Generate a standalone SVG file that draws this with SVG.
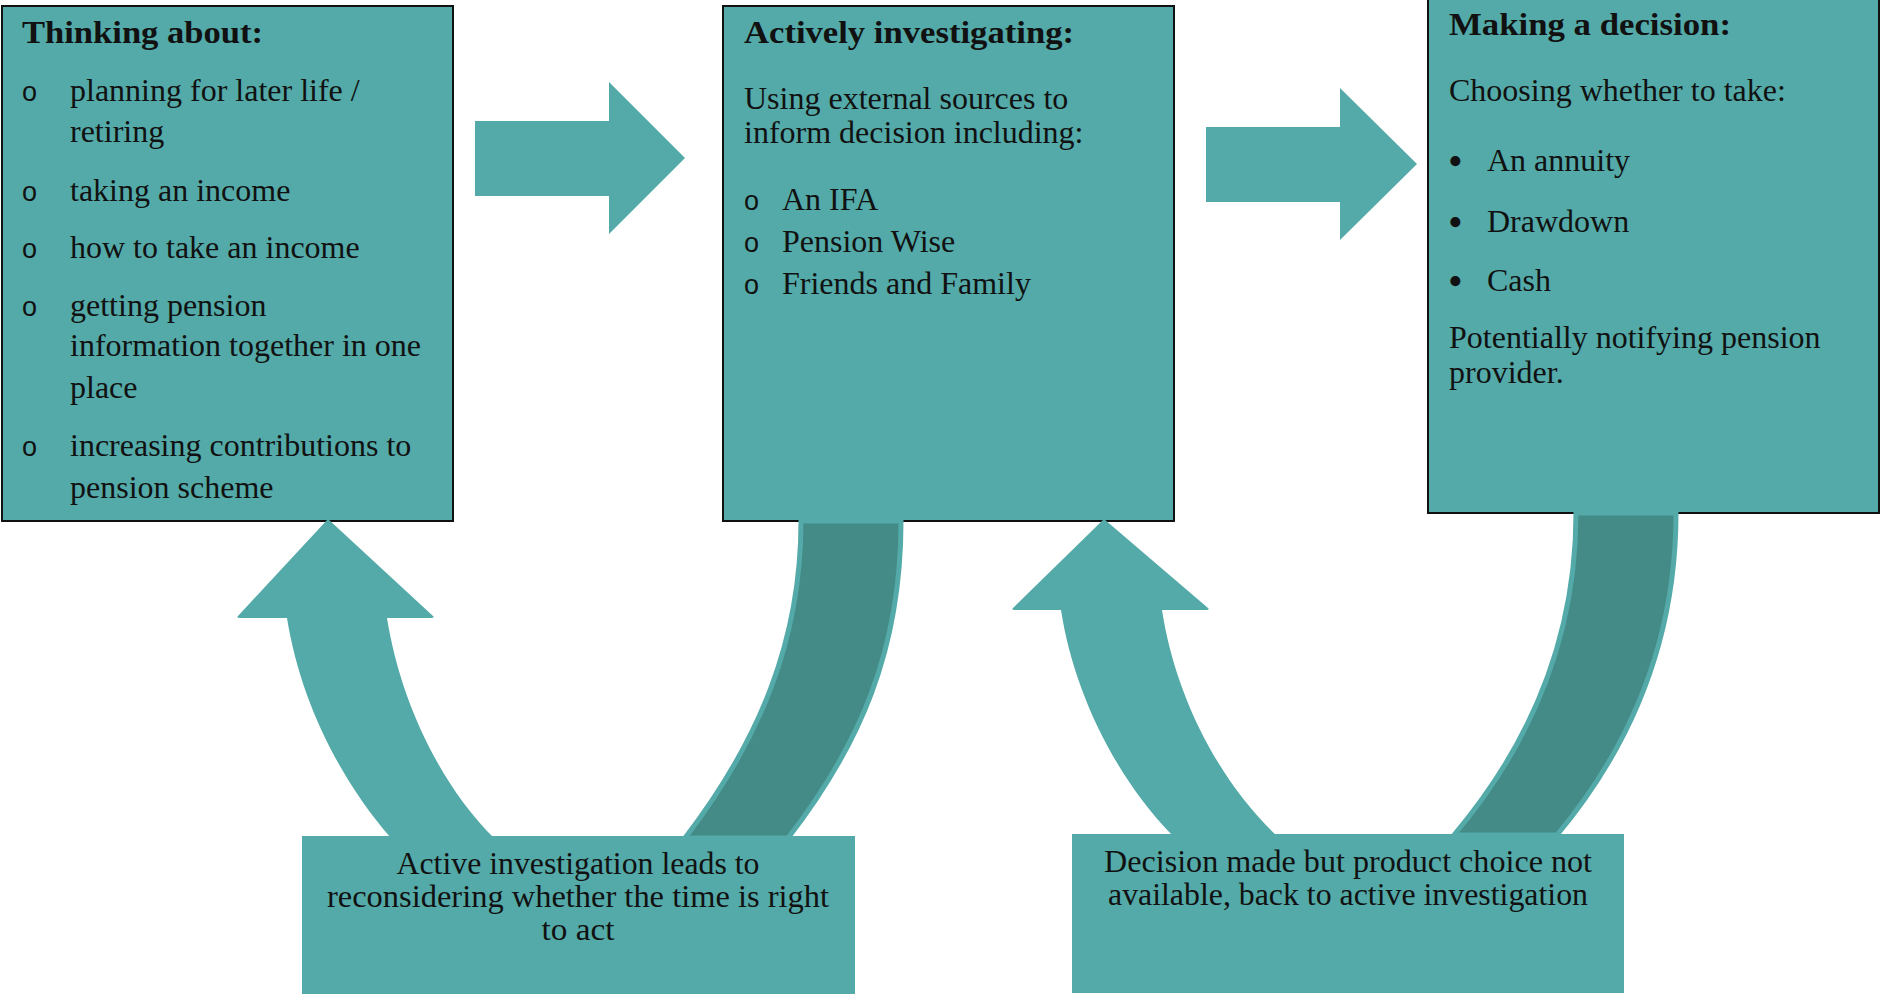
<svg xmlns="http://www.w3.org/2000/svg" width="1881" height="997" viewBox="0 0 1881 997">
<style>
.box{fill:#53aaa8;stroke:#111;stroke-width:2}
.lbl{fill:#53aaa8}
.arr{fill:#53aaa8}
.band{fill:#448a87;stroke:#53aaa8;stroke-width:5;stroke-linejoin:miter}
.t{font-family:"Liberation Serif","Times New Roman",serif;font-size:32px;fill:#111}
.h{font-family:"Liberation Serif","Times New Roman",serif;font-size:32px;font-weight:bold;fill:#111}
.o{font-family:"Liberation Sans",Arial,sans-serif;font-size:27px;fill:#111}
.b{font-family:"Liberation Serif","Times New Roman",serif;font-size:42px;fill:#111}
.c{font-family:"Liberation Serif","Times New Roman",serif;font-size:31px;fill:#111;text-anchor:middle}
</style>
<rect x="0" y="0" width="1881" height="997" fill="#fff"/>
<g id="thinking">
<rect class="box" x="2" y="6" width="451" height="515"/>
<text class="h" x="22" y="43" textLength="241" lengthAdjust="spacingAndGlyphs">Thinking about:</text>
<text class="o" x="22" y="101">o</text><text class="t" x="70" y="101">planning for later life /</text>
<text class="t" x="70" y="142">retiring</text>
<text class="o" x="22" y="201">o</text><text class="t" x="70" y="201">taking an income</text>
<text class="o" x="22" y="258">o</text><text class="t" x="70" y="258">how to take an income</text>
<text class="o" x="22" y="316">o</text><text class="t" x="70" y="316">getting pension</text>
<text class="t" x="70" y="356">information together in one</text>
<text class="t" x="70" y="398">place</text>
<text class="o" x="22" y="456">o</text><text class="t" x="70" y="456">increasing contributions to</text>
<text class="t" x="70" y="498">pension scheme</text>
</g>
<g id="investigating">
<rect class="box" x="723" y="6" width="451" height="515"/>
<text class="h" x="744" y="43" textLength="330" lengthAdjust="spacingAndGlyphs">Actively investigating:</text>
<text class="t" x="744" y="109">Using external sources to</text>
<text class="t" x="744" y="143">inform decision including:</text>
<text class="o" x="744" y="210">o</text><text class="t" x="782" y="210">An IFA</text>
<text class="o" x="744" y="252">o</text><text class="t" x="782" y="252">Pension Wise</text>
<text class="o" x="744" y="294">o</text><text class="t" x="782" y="294">Friends and Family</text>
</g>
<g id="decision">
<rect class="box" x="1428" y="-4" width="451" height="517"/>
<text class="h" x="1449" y="35" textLength="282" lengthAdjust="spacingAndGlyphs">Making a decision:</text>
<text class="t" x="1449" y="101">Choosing whether to take:</text>
<text class="b" x="1448" y="175">•</text><text class="t" x="1487" y="171">An annuity</text>
<text class="b" x="1448" y="236">•</text><text class="t" x="1487" y="232">Drawdown</text>
<text class="b" x="1448" y="295">•</text><text class="t" x="1487" y="291">Cash</text>
<text class="t" x="1449" y="348">Potentially notifying pension</text>
<text class="t" x="1449" y="383">provider.</text>
</g>
<g id="connectors">
<path class="arr" d="M475,121 L609,121 L609,82 L685,158 L609,234 L609,196 L475,196 Z"/>
<path class="arr" d="M1206,127 L1340,127 L1340,88 L1417,164 L1340,240 L1340,202 L1206,202 Z"/>
<path class="band" d="M801,521 L901,521 C901,650 860,745 788,838 L685,838 C760,740 801,640 801,521 Z"/>
<path class="arr" d="M328,519 L433,616 Q435,618 431,618 L387,618 C400,700 440,785 494,838 L391,838 C340,780 300,700 287,618 L240,618 Q236,618 238,616 Z"/>
<path class="band" d="M1576,513 L1676,513 C1676,640 1632,745 1557,835 L1454,835 C1530,745 1576,640 1576,513 Z"/>
<path class="arr" d="M1104,519 L1208,608 Q1210,610 1206,610 L1162,610 C1175,695 1218,780 1276,835 L1172,835 C1118,780 1074,695 1061,610 L1015,610 Q1011,610 1013,608 Z"/>
</g>
<g id="label-reconsider">
<rect class="lbl" x="302" y="836" width="553" height="158"/>
<text class="c" x="578" y="874" textLength="363" lengthAdjust="spacingAndGlyphs">Active investigation leads to</text>
<text class="c" x="578" y="907" textLength="502" lengthAdjust="spacingAndGlyphs">reconsidering whether the time is right</text>
<text class="c" x="578" y="940" textLength="73" lengthAdjust="spacingAndGlyphs">to act</text>
</g>
<g id="label-unavailable">
<rect class="lbl" x="1072" y="834" width="552" height="159"/>
<text class="c" x="1348" y="872" textLength="488" lengthAdjust="spacingAndGlyphs">Decision made but product choice not</text>
<text class="c" x="1348" y="905" textLength="480" lengthAdjust="spacingAndGlyphs">available, back to active investigation</text>
</g>
</svg>
